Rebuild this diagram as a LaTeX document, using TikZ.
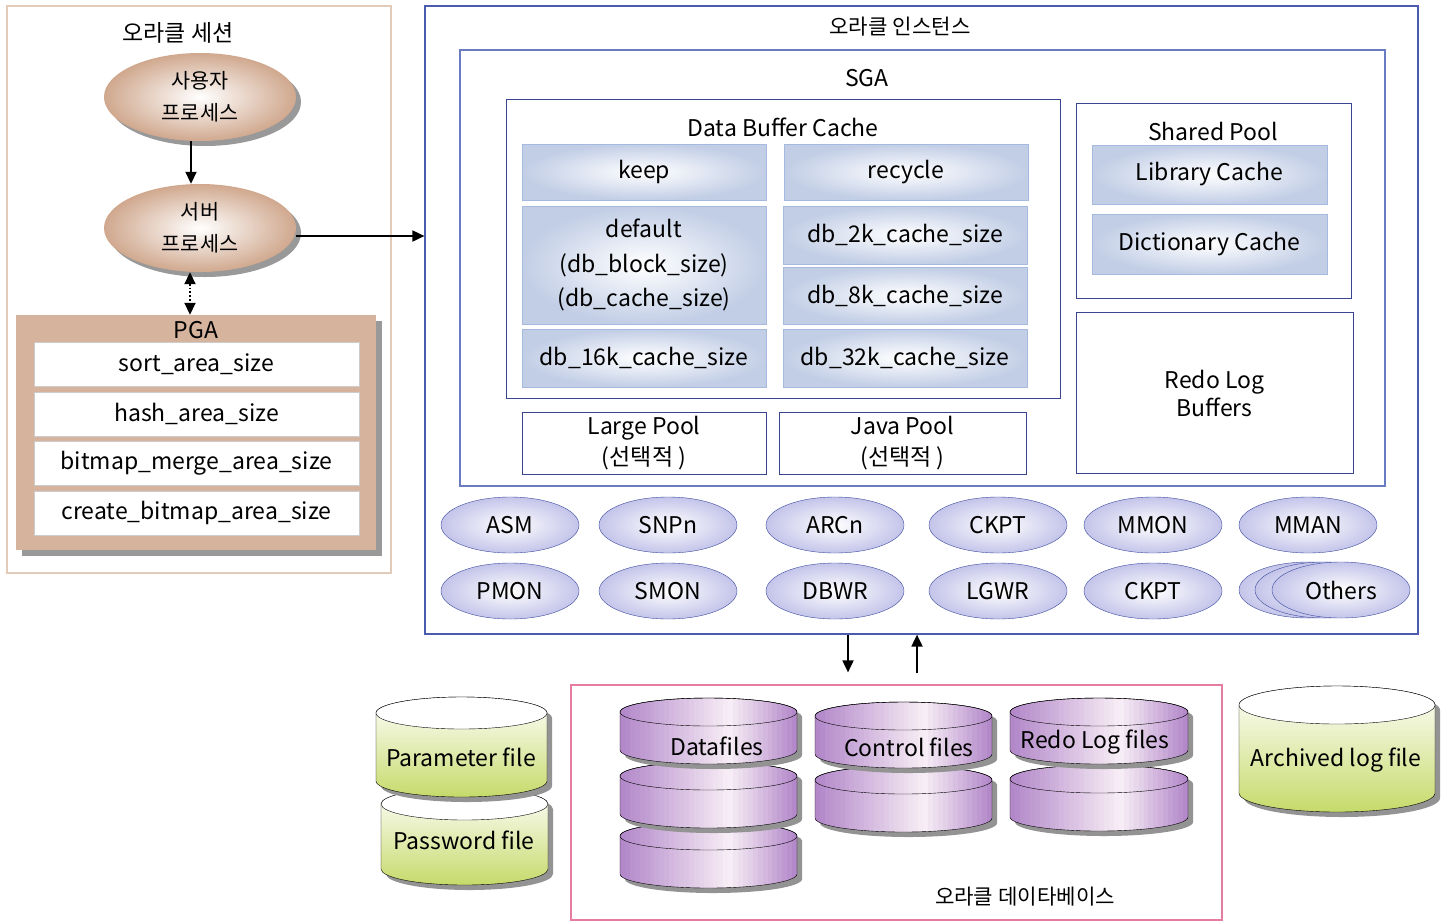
\documentclass[tikz,border=0pt]{standalone}
\usepackage{fontspec}
\setmainfont{Noto Sans CJK KR}
\newfontfamily\krfont{Noto Sans CJK KR}[Scale=0.92]
\usetikzlibrary{shapes, arrows.meta, positioning, shadows}

\definecolor{sessline}{HTML}{E2CBB8}
\definecolor{tanedge}{HTML}{D0A88E}
\definecolor{pgafill}{HTML}{D6B39C}
\definecolor{instline}{HTML}{4A5CB0}
\definecolor{sgaline}{HTML}{6A7CC0}
\definecolor{poolline}{HTML}{3A4590}
\definecolor{cellfill}{HTML}{C2CEE6}
\definecolor{cellline}{HTML}{A6BADF}
\definecolor{proclav}{HTML}{C4C4EA}
\definecolor{procline}{HTML}{3A4A9C}
\definecolor{dbline}{HTML}{E67C9E}
\definecolor{purdark}{HTML}{B085C8}
\definecolor{purlight}{HTML}{F8EEF6}
\definecolor{greenfill}{HTML}{C6DA6A}

% outline of a drum: x0, x1, centre of top, centre of bottom, y radius
\newcommand{\drumpath}[5]{(#1,#3) -- (#1,#4)
  arc[start angle=180, end angle=360, x radius={(#2-#1)/2}, y radius=#5] -- (#2,#3)
  arc[start angle=0, end angle=180, x radius={(#2-#1)/2}, y radius=#5] -- cycle}

% green drum: x0, x1, top, body height, y radius
\newcommand{\drum}[5]{%
  \pgfmathsetmacro{\drumyc}{-(#3)-(#5)}%
  \pgfmathsetmacro{\drumyb}{\drumyc-(#4)}%
  \fill[gray!85, shift={(5,-5)}] \drumpath{#1}{#2}{\drumyc}{\drumyb}{#5};
  \draw[greenbody] \drumpath{#1}{#2}{\drumyc}{\drumyb}{#5};
  \draw[fill=white] ({(#1+#2)/2},\drumyc) ellipse [x radius={(#2-#1)/2}, y radius=#5];
}

% purple drum, shaded from left to right
\newcommand{\purdrum}[5]{%
  \pgfmathsetmacro{\drumyc}{-(#3)-(#5)}%
  \pgfmathsetmacro{\drumyb}{\drumyc-(#4)}%
  \fill[gray!85, shift={(5,-5)}] \drumpath{#1}{#2}{\drumyc}{\drumyb}{#5};
  \begin{scope}
    \clip \drumpath{#1}{#2}{\drumyc}{\drumyb}{#5};
    \foreach \k in {0,...,35} {
      \pgfmathsetmacro{\drumt}{(\k+0.5)/36}
      \pgfmathtruncatemacro{\drump}{\drumt<0.62 ? 100*(1-\drumt/0.62) : 100*(\drumt-0.62)/0.38}
      \fill[purdark!\drump!purlight] ({#1+\k*(#2-#1)/36},{\drumyc+#5+1})
        rectangle ({#1+(\k+1)*(#2-#1)/36+0.6},{\drumyb-#5-1});
    }
  \end{scope}
  \draw \drumpath{#1}{#2}{\drumyc}{\drumyb}{#5};
  \draw ({(#1+#2)/2},\drumyc) ellipse [x radius={(#2-#1)/2}, y radius=#5];
}

\tikzset{
  sessbox/.style={draw=sessline, line width=1.2, inner sep=0},
  userproc/.style={ellipse, inner color=white, outer color=tanedge, minimum width=192, minimum height=88,
    inner sep=0, align=center, font=\krfont\fontsize{22.5}{32}\selectfont,
    drop shadow={shadow xshift=5pt, shadow yshift=-5pt, fill=gray!80, opacity=1}},
  pgabox/.style={fill=pgafill, inner sep=0,
    drop shadow={shadow xshift=6pt, shadow yshift=-6pt, fill=gray!80, opacity=1}},
  pgarow/.style={draw=gray!40, fill=white, minimum width=325, minimum height=44, inner sep=0},
  instbox/.style={draw=instline, line width=1.2, inner sep=0},
  sgabox/.style={draw=sgaline, line width=1.2, inner sep=0},
  poolbox/.style={draw=poolline, line width=1, inner sep=0, align=center},
  cell/.style={draw=cellline, inner color=white, outer color=cellfill, minimum width=244,
    inner sep=0, align=center},
  proc/.style={ellipse, draw=procline, inner color=white, outer color=proclav,
    minimum width=138, minimum height=56, inner sep=0},
  dbbox/.style={draw=dbline, line width=1.2, inner sep=0},
  greenbody/.style={draw=black, top color=white, bottom color=greenfill},
  flow/.style={->, line width=1.8},
}

\begin{document}
\begin{tikzpicture}[x=1pt, y=1pt, font=\fontsize{23}{31}\selectfont,
  >={Triangle[length=12pt, width=11pt]}]
\useasboundingbox (0,0) rectangle (1450,-922);

\node[sessbox, minimum width=384, minimum height=567] (session) at (199,-289.5) {};
\node (sesstitle) at (178,-33) {오라클 세션};
\node[userproc] (user) at (200,-97) {사용자\\프로세스};
\node[userproc] (server) at (200,-228) {서버\\프로세스};

\node[pgabox, minimum width=360, minimum height=235] (pga) at (196,-432.5) {};
\node (pgatitle) at (196,-330) {PGA};
\node[pgarow] (sortarea) at (196.5,-364.5) {sort\_area\_size};
\node[pgarow] (hasharea) [below=5 of sortarea] {hash\_area\_size};
\node[pgarow] (bitmaparea) [below=5 of hasharea] {bitmap\_merge\_area\_size};
\node[pgarow] (createarea) [below=5 of bitmaparea] {create\_bitmap\_area\_size};

\node[instbox, minimum width=993, minimum height=628] (inst) at (921.5,-320) {};
\node (insttitle) at (900,-27) {\krfont 오라클 인스턴스};
\node[sgabox, minimum width=925, minimum height=436] (sga) at (922.5,-268) {};
\node (sgatitle) at (867,-78) {SGA};

\node[poolbox, minimum width=554, minimum height=299] (dbc) at (783,-248.5) {};
\node (dbctitle) at (783,-127) {Data Buffer Cache};
\node[cell, minimum height=56] (keep) at (644,-172) {keep};
\node[cell, minimum height=56] (recycle) at (906,-172) {recycle};
\node[cell, minimum height=118, font=\fontsize{23}{34.5}\selectfont] (default) at (644,-265)
  {default\\(db\_block\_size)\\(db\_cache\_size)};
\node[cell, minimum height=58] (cache2k) at (905,-235) {db\_2k\_cache\_size};
\node[cell, minimum height=57] (cache8k) at (905,-295.5) {db\_8k\_cache\_size};
\node[cell, minimum height=58] (cache16k) at (644,-358) {db\_16k\_cache\_size};
\node[cell, minimum height=58] (cache32k) at (905,-358) {db\_32k\_cache\_size};

\node[poolbox, minimum width=275, minimum height=195] (shared) at (1213.5,-200.5) {};
\node (sharedtitle) at (1213,-131) {Shared Pool};
\node[cell, minimum width=235, minimum height=59] (library) at (1209.5,-174.5) {Library Cache};
\node[cell, minimum width=235, minimum height=60] (dictionary) at (1209.5,-244) {Dictionary Cache};
\node[poolbox, minimum width=277, minimum height=161, font=\fontsize{23}{28}\selectfont] (redobuf)
  at (1214.5,-393) {Redo Log\\Buffers};

\node[poolbox, minimum width=244, minimum height=62] (largepool) at (644,-443) {Large Pool\\(선택적 )};
\node[poolbox, minimum width=247, minimum height=62] (javapool) at (902.5,-443) {Java Pool\\(선택적 )};

\node[proc] (asm) at (510,-525) {ASM};
\node[proc] (snpn) at (668,-525) {SNPn};
\node[proc] (arcn) at (835,-525) {ARCn};
\node[proc] (ckpta) at (998,-525) {CKPT};
\node[proc] (mmon) at (1153,-525) {MMON};
\node[proc] (mman) at (1308,-525) {MMAN};
\node[proc] (pmon) at (510,-591) {PMON};
\node[proc] (smon) at (668,-591) {SMON};
\node[proc] (dbwr) at (835,-591) {DBWR};
\node[proc] (lgwr) at (998,-591) {LGWR};
\node[proc] (ckptb) at (1153,-591) {CKPT};
\node[proc] (othersc) at (1308,-590) {};
\node[proc] (othersb) at (1324,-590) {};
\node[proc] (others) at (1341,-590) {Others};

\node[dbbox, minimum width=651, minimum height=235] (db) at (896.5,-802.5) {};
\node (dbtitle) at (1025,-897) {\krfont 오라클 데이타베이스};

\purdrum{620}{797}{822}{38}{14}
\purdrum{620}{797}{762}{38}{14}
\purdrum{620}{797}{698}{38}{14}
\purdrum{815}{992}{766}{38}{14}
\purdrum{815}{992}{702}{38}{14}
\purdrum{1010}{1188}{765}{38}{14}
\purdrum{1010}{1188}{698}{38}{14}
\drum{381}{548}{788}{65}{16}
\drum{376}{547}{697}{68}{16}
\drum{1239}{1435}{686}{88}{19}

\node (datafiles) at (717,-746) {Datafiles};
\node (controlfiles) at (909,-747) {Control files};
\node (redofiles) at (1095,-742) {Redo Log files};
\node (paramfile) at (461,-757) {Parameter file};
\node (passfile) at (464,-840) {Password file};
\node (archfile) at (1336,-760) {Archived log file};

\draw[flow] ([xshift=-9pt]user.south) -- ([xshift=-9pt]server.north);
\draw[flow, <->, dotted] ([xshift=-10pt]server.south) -- ([xshift=-6pt]pga.north);
\draw[flow] ([yshift=-8pt]server.east) -- ([yshift=-8pt]server.east -| inst.west);
\draw[flow] ([xshift=-73.5pt]inst.south) -- ([xshift=-48.5pt, yshift=12pt]db.north);
\draw[flow] ([xshift=20.5pt, yshift=11pt]db.north) -- ([xshift=-4.5pt]inst.south);
\end{tikzpicture}
\end{document}
